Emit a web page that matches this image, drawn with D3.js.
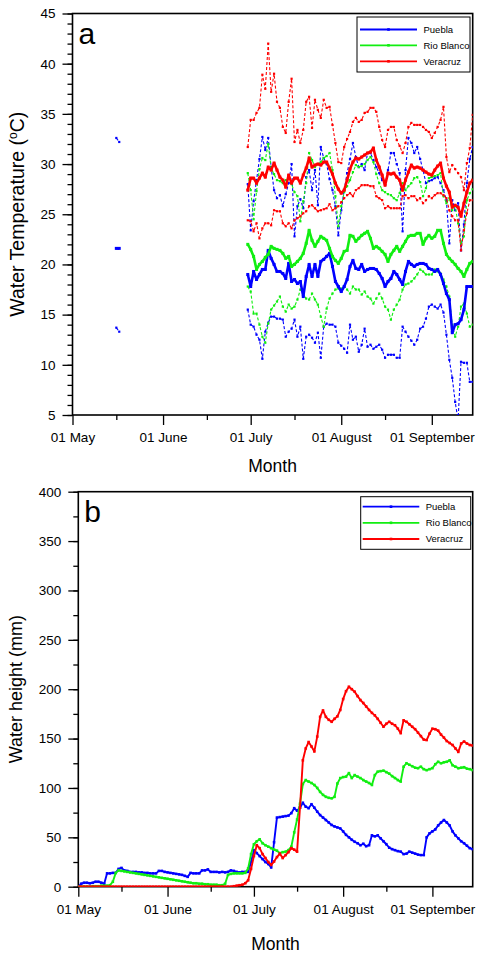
<!DOCTYPE html>
<html><head><meta charset="utf-8">
<script src="https://cdn.jsdelivr.net/npm/d3@7"></script>
<style>
html,body{margin:0;padding:0;background:#fff;}
text{font-family:"Liberation Sans",Arial,Helvetica,sans-serif;}
</style></head>
<body><svg id="chart" width="485" height="956"></svg>
<script>
// ---------------- DATA ----------------
const seriesNames = ["Puebla", "Rio Blanco", "Veracruz"];
const seriesColors = ["#0000ff", "#11ee11", "#ff0000"];
const monthTicks = ["2013-05-01", "2013-06-01", "2013-07-01", "2013-08-01", "2013-09-01"];
const midMonthTicks = ["2013-05-16", "2013-06-16", "2013-07-16", "2013-08-16"];
const tempTicks = [5, 10, 15, 20, 25, 30, 35, 40, 45];
const heightTicks = [0, 50, 100, 150, 200, 250, 300, 350, 400];

// Panel a: daily water temperature (first value = 30 June)
const tempStart = "2013-06-30";
const pueblaMean = [19.0,17.8,19.3,18.5,19.0,19.5,19.5,21.4,20.6,20.0,19.3,19.3,19.1,18.6,20.1,18.3,18.5,18.1,18.3,16.8,18.8,20.0,18.8,20.0,18.8,20.3,20.5,20.8,21.1,19.8,18.3,17.8,17.3,17.8,18.5,19.8,20.4,19.6,19.5,20.0,19.3,19.5,19.6,19.6,19.5,19.1,18.6,17.8,18.3,18.6,19.3,19.0,18.5,18.0,19.3,20.3,20.0,19.8,20.0,20.1,20.1,20.0,19.6,19.5,19.3,19.5,19.0,18.1,17.1,16.5,13.2,14.0,14.1,14.5,15.5,17.8,17.8,17.8];
const pueblaMax = [28.0,23.4,26.3,28.4,30.5,32.7,31.4,32.6,29.7,27.4,26.6,26.9,25.8,27.0,28.1,30.0,22.8,25.8,26.5,25.6,28.7,29.4,27.4,29.4,25.9,31.7,30.6,30.0,28.5,27.4,25.8,22.9,25.4,27.4,29.1,30.5,32.1,30.7,29.7,30.0,29.4,31.1,31.1,30.4,29.7,29.1,28.4,27.9,29.4,31.1,31.1,30.0,29.1,23.3,29.4,32.6,32.1,31.1,31.7,30.5,29.4,28.1,28.3,28.4,28.6,28.7,28.1,27.4,26.4,22.1,26.4,25.4,26.1,21.4,24.0,28.1,30.5,31.7];
const pueblaMin = [15.5,14.0,13.8,13.0,12.5,10.6,13.3,14.2,14.8,14.8,14.6,14.6,14.5,12.8,13.3,13.6,14.5,12.8,13.8,10.6,12.8,13.0,12.7,12.2,13.2,10.7,13.8,14.1,14.0,14.0,13.8,12.2,11.9,11.6,11.2,14.0,12.5,12.8,11.3,12.0,13.6,11.8,12.0,11.6,11.8,12.0,11.5,10.7,11.0,11.0,11.0,10.7,10.7,13.8,13.3,12.8,12.4,12.0,12.5,13.6,13.8,14.6,15.8,16.0,15.8,15.6,16.0,15.2,13.0,10.5,8.7,6.3,4.5,10.3,10.2,10.2,8.3,8.3];
// Puebla also has two isolated mid-May readings
const pueblaMayDates = ["2013-05-16", "2013-05-17"];
const pueblaMayMean = [21.6, 21.6];
const pueblaMayMax = [32.6, 32.2];
const pueblaMayMin = [13.7, 13.3];
const rioBlancoMean = [22.0,21.5,20.8,19.5,20.0,20.3,20.7,21.0,21.8,21.6,21.5,21.4,21.1,20.6,20.8,19.8,20.0,20.3,20.6,21.1,22.1,23.4,22.4,21.8,22.3,22.8,22.6,22.4,21.6,20.8,20.4,20.1,20.6,21.3,21.4,22.9,22.8,22.3,22.6,22.9,23.1,23.3,22.6,21.6,21.8,21.6,21.3,21.0,20.3,21.0,21.4,21.8,21.3,21.8,22.3,22.8,22.9,22.9,23.1,23.1,22.0,22.6,22.9,22.6,22.8,23.4,23.4,22.1,21.0,20.6,20.3,20.0,19.6,19.3,18.8,19.5,20.1,20.3];
const rioBlancoMax = [29.1,27.4,24.5,27.3,29.5,30.6,30.4,32.0,29.6,29.0,28.4,28.3,28.1,28.4,28.7,28.0,27.2,26.8,24.3,26.3,28.1,31.1,30.4,29.7,30.0,30.2,30.6,30.8,31.1,29.4,26.8,23.8,25.8,27.2,27.8,28.4,29.2,29.9,29.7,29.8,30.0,30.4,30.7,30.2,29.0,28.1,27.4,27.2,27.0,26.9,26.6,26.4,27.1,28.1,27.4,27.8,28.1,28.6,28.7,28.2,26.8,27.6,28.6,28.7,28.8,28.9,29.1,26.8,26.1,26.6,25.4,25.8,24.1,22.1,22.8,26.4,27.1,27.5];
const rioBlancoMin = [17.8,17.3,15.1,15.1,14.0,12.8,12.2,14.1,15.5,15.9,16.3,16.8,15.8,15.3,16.0,15.6,15.8,16.5,17.5,17.1,16.6,16.5,17.1,16.5,16.0,14.8,13.8,15.6,16.6,17.1,17.5,17.6,17.6,17.8,17.5,17.1,17.8,17.5,17.5,17.0,17.3,16.8,16.6,16.1,16.6,17.1,16.6,15.8,15.5,14.5,15.5,16.0,16.5,17.5,18.0,18.1,18.3,18.6,19.0,19.5,19.3,19.0,19.0,19.0,19.5,19.3,19.1,18.5,17.8,16.8,14.0,12.8,13.8,15.8,16.1,15.1,13.8,14.0];
const veracruzMean = [27.4,28.6,28.6,28.1,28.6,29.1,28.7,29.7,29.4,30.1,29.4,28.7,28.4,27.7,28.9,28.1,28.6,28.6,28.1,28.9,29.6,30.6,29.7,29.9,30.0,29.9,30.2,30.2,29.6,29.0,28.1,27.5,27.1,27.4,28.4,29.5,30.2,30.6,30.5,30.7,30.9,31.1,31.2,31.6,30.4,29.7,28.9,27.9,29.1,29.0,29.1,28.7,28.4,27.4,28.4,29.2,29.9,29.6,29.7,29.6,29.4,29.2,29.0,28.9,29.4,29.8,30.1,28.6,27.8,27.2,25.7,25.9,25.7,24.8,26.1,27.2,28.1,28.4];
const veracruzMax = [31.7,34.4,34.4,35.1,35.6,38.9,37.5,42.0,37.2,39.0,36.2,35.6,33.7,33.1,36.2,38.5,32.2,33.4,32.1,33.4,36.2,36.7,33.6,36.4,35.4,34.6,36.4,35.6,35.7,33.9,32.1,30.2,30.1,31.7,32.5,33.2,34.2,34.6,34.2,34.4,35.1,35.2,35.6,35.6,35.2,33.7,32.4,31.7,33.4,33.7,33.7,32.4,31.8,31.1,32.1,33.7,34.1,33.9,33.9,33.9,33.7,33.4,33.2,32.6,33.1,33.7,34.4,35.7,30.7,29.2,29.9,29.5,29.1,28.7,27.4,30.1,31.6,34.9];
const veracruzMin = [24.4,24.3,23.3,24.1,22.6,23.6,24.1,24.1,23.9,25.4,25.3,25.3,24.1,23.8,24.1,23.6,24.4,24.6,24.8,25.1,25.3,25.8,25.9,25.6,25.3,25.4,25.5,25.6,26.0,25.4,25.6,25.8,26.2,26.6,26.9,27.1,26.8,27.4,27.6,27.9,27.9,27.9,27.8,27.8,26.8,26.6,26.4,25.6,25.8,25.6,25.6,25.6,25.6,26.8,26.9,26.6,26.8,26.8,26.4,26.6,26.1,26.4,26.8,26.6,26.9,27.1,27.1,26.9,26.6,25.4,24.8,24.4,24.4,21.4,23.4,25.1,26.4,26.4];

// Panel b: daily water height (first value = 01 May)
const heightStart = "2013-05-01";
const pueblaHeight = [0,3,4,4,3.5,4,5,5,4,3, 13.5,13.5,14,14,18,19,16.5,16,15,15, 15,14.5,14.5,14,14,13.5,13.5,13.5,16,16, 15,14.5,14,13.5,13,12.5,12,11,10,14, 13.5,13.5,13.5,16.5,16.5,17.5,15,15,15,14.5, 15,14.5,15,16.5,16,15,14.5,15,15,15, 25,37,34,31,28,25,23,19.5,45,70, 70.5,71,71.5,72,74.5,79.5,77,80,85,81, 79.5,83.5,80,76,72.5,70,67.5,65,62.5,61, 60,59,56,52.5,50,47.5,45.5,44,42,43.5, 41,42,52,51,52,49,46,43,39.5,38, 37,36,35.5,33,33.5,35.5,34.5,33.5,32.5,32, 32,50,54,56,58,62,65,67.5,65,62, 56,52,49,46,44,41.5,39,38];
const rioBlancoHeight = [0,0,0,0,0,0.5,0.5,0.5,1,1, 1,1.5,5,14,16.5,16,15.5,15,14.5,14, 13.5,13,12.5,12,11.5,11,10.5,10,9.5,9, 8.5,8,7.5,7,6.5,6,5.5,5,4.5,4, 3.5,3.5,3,3,2.5,2.5,2,2,2,1.5, 1.5,3,12,13,13.5,13.5,13.5,13.5,14,18.5, 33,43,46,48,44,42,40.5,39,37.5,36.5, 34,35,35.5,37,40.5,55,68,84,104,108, 106.5,105,103,100,96,93,91,90,89.5,91, 104.5,110,111,111.5,115,110,113,111.5,110,108, 106.5,105,103,113,116.5,117,117.5,116,114.5,112, 110,108,106.5,121.5,125,123.5,122,120.5,120,121.5, 119,118,119,120,124,126.5,125,126,126.5,128, 123,121.5,120,120.5,121,119.5,119,118];
const veracruzHeight = [0,0,0,0,0,0,0,0,0,0, 0,0,0,0,0,0,0,0,0,0, 0,0,0,0,0,0,0,0,0,0, 0,0,0,0,0,0,0,0,0,0, 0,0,0,0,0,0,0,0,0,0, 0,0,0,0,0.5,1,1.5,2,3.5,6.5, 18,31,42,39,33,29,25,22,25.5,30, 33.5,29,32,35,39,37.5,35.5,80,128,140, 146.5,142,137,152,172,178.5,172,169,167,170, 172.5,179,190,198,202.5,200,197.5,193,189,186, 182.5,179,176,173.5,170,166,162,165,167,165, 163.5,160,155.5,168.5,167,164.5,162,159.5,156,152.5, 149,148.5,155,160,159.5,158,154,151,147.5,145.5, 143.5,140,136.5,145,147,145,143.5,143];

// ---------------- DRAWING ----------------
const svg = d3.select("#chart");
const parse = d3.timeParse("%Y-%m-%d");
const dom = [parse("2013-05-01"), parse("2013-09-15")];
const fmt = d3.timeFormat("%d %B");
const font = '"Liberation Sans",Arial,Helvetica,sans-serif';

function series(start, vals) {
  const s = parse(start);
  return vals.map((v, i) => ({date: d3.timeDay.offset(s, i), v: v}));
}
function pairs(dates, vals) { return dates.map((d, i) => ({date: parse(d), v: vals[i]})); }

function panel(cfg) {
  const g = svg.append("g");
  const x = d3.scaleTime().domain(dom).range([cfg.left, cfg.right]);
  const y = d3.scaleLinear().domain(cfg.ydom).range([cfg.bottom, cfg.top]);
  const clipId = "clip" + cfg.id;
  svg.append("clipPath").attr("id", clipId).append("rect")
    .attr("x", cfg.left).attr("y", cfg.top).attr("width", cfg.right - cfg.left).attr("height", cfg.bottom - cfg.top);

  // axes
  const xa = g.append("g").attr("transform", `translate(0,${cfg.bottom})`)
    .call(d3.axisBottom(x).tickValues(monthTicks.map(parse)).tickSize(10).tickPadding(6).tickFormat(fmt));
  const xm = g.append("g").attr("transform", `translate(0,${cfg.bottom})`)
    .call(d3.axisBottom(x).tickValues(midMonthTicks.map(parse)).tickSize(5).tickFormat(""));
  const ya = g.append("g").attr("transform", `translate(${cfg.left},0)`)
    .call(d3.axisLeft(y).tickValues(cfg.yticks).tickSize(10).tickPadding(7));
  const ym = g.append("g").attr("transform", `translate(${cfg.left},0)`)
    .call(d3.axisLeft(y).tickValues(d3.range(cfg.ydom[0], cfg.ydom[1] + 0.001, cfg.minorStep)).tickSize(5).tickFormat(""));
  [xa, xm, ya, ym].forEach(a => {
    a.select(".domain").remove();
    a.selectAll("line").attr("stroke", "#000").attr("stroke-width", 1.3);
    a.selectAll("text").attr("font-size", 13.5).attr("font-family", font).attr("fill", "#000");
  });
  xa.selectAll("text").attr("dy", "0.85em");

  g.append("rect").attr("x", cfg.left).attr("y", cfg.top)
    .attr("width", cfg.right - cfg.left).attr("height", cfg.bottom - cfg.top)
    .attr("fill", "none").attr("stroke", "#000").attr("stroke-width", 1.6);

  // titles
  g.append("text").attr("x", (cfg.left + cfg.right) / 2).attr("y", cfg.monthY)
    .attr("text-anchor", "middle").attr("font-size", 17.5).attr("font-family", font).text("Month");
  const yl = g.append("text").attr("transform", `translate(${cfg.ylabelX},${(cfg.top + cfg.bottom) / 2}) rotate(-90)`)
    .attr("text-anchor", "middle").attr("font-size", cfg.ylabelSize).attr("font-family", font);
  cfg.ylabel(yl);
  g.append("text").attr("x", cfg.left + 6).attr("y", cfg.top + cfg.letterDy)
    .attr("font-size", 30).attr("font-family", '"Open Sans","DejaVu Sans",sans-serif').text(cfg.letter);

  const plot = g.append("g").attr("clip-path", `url(#${clipId})`);
  return {g, x, y, plot};
}

function drawLine(p, data, color, width, dash, msize) {
  const line = d3.line().defined(d => d.v != null).x(d => p.x(d.date)).y(d => p.y(d.v));
  p.plot.append("path").datum(data).attr("d", line).attr("fill", "none")
    .attr("stroke", color).attr("stroke-width", width).attr("stroke-linejoin", "round")
    .attr("stroke-dasharray", dash || null);
  p.plot.append("g").selectAll("rect").data(data).join("rect")
    .attr("x", d => p.x(d.date) - msize / 2).attr("y", d => p.y(d.v) - msize / 2)
    .attr("width", msize).attr("height", msize).attr("fill", color);
}

function legend(p, bx, by, bw, bh, rows, lineX0, lineX1, textX) {
  p.g.append("rect").attr("x", bx).attr("y", by).attr("width", bw).attr("height", bh)
    .attr("fill", "#fff").attr("stroke", "#000").attr("stroke-width", 1);
  seriesNames.forEach((n, i) => {
    p.g.append("line").attr("x1", lineX0).attr("x2", lineX1).attr("y1", rows[i]).attr("y2", rows[i])
      .attr("stroke", seriesColors[i]).attr("stroke-width", 1.8);
    p.g.append("rect").attr("x", (lineX0 + lineX1) / 2 - 1.3).attr("y", rows[i] - 1.3)
      .attr("width", 2.6).attr("height", 2.6).attr("fill", seriesColors[i]);
    p.g.append("text").attr("x", textX).attr("y", rows[i] + 3.4).attr("font-size", 9.5)
      .attr("font-family", font).text(n);
  });
}

// Panel a
const pa = panel({id: "a", left: 72.5, right: 472.7, top: 13.5, bottom: 415, ydom: [5, 45], yticks: tempTicks,
  minorStep: 1, monthY: 472, ylabelX: 24, ylabelSize: 19.5, letter: "a", letterDy: 30,
  ylabel: t => { t.append("tspan").text("Water Temperature ("); t.append("tspan").attr("font-size", 12).attr("dy", -7).text("o");
                 t.append("tspan").attr("dy", 7).text("C)"); }});
const minMax = [[pueblaMax, pueblaMin, pueblaMayMax, pueblaMayMin], [rioBlancoMax, rioBlancoMin], [veracruzMax, veracruzMin]];
minMax.forEach((arr, i) => {
  drawLine(pa, series(tempStart, arr[0]), seriesColors[i], 1.1, "3,2", 2.2);
  drawLine(pa, series(tempStart, arr[1]), seriesColors[i], 1.1, "3,2", 2.2);
  if (arr[2]) {
    drawLine(pa, pairs(pueblaMayDates, arr[2]), seriesColors[i], 1.1, "3,2", 2.2);
    drawLine(pa, pairs(pueblaMayDates, arr[3]), seriesColors[i], 1.1, "3,2", 2.2);
  }
});
drawLine(pa, pairs(pueblaMayDates, pueblaMayMean), seriesColors[0], 2.6, null, 3);
[pueblaMean, rioBlancoMean, veracruzMean].forEach((arr, i) => {
  drawLine(pa, series(tempStart, arr), seriesColors[i], 2.6, null, 3);
});
legend(pa, 357, 17, 113, 55, [29.5, 45.3, 61.3], 360, 417, 423.5);

// Panel b
const pb = panel({id: "b", left: 78.3, right: 472.7, top: 491.7, bottom: 886.7, ydom: [0, 400], yticks: heightTicks,
  minorStep: 25, monthY: 950, ylabelX: 21.5, ylabelSize: 18, letter: "b", letterDy: 30,
  ylabel: t => t.text("Water height (mm)")});
[pueblaHeight, rioBlancoHeight, veracruzHeight].forEach((arr, i) => {
  drawLine(pb, series(heightStart, arr), seriesColors[i], 1.9, null, 2.6);
});
legend(pb, 360.7, 496.7, 110, 52.6, [506.7, 522.8, 539], 362.7, 419.3, 425.7);
</script>
</body></html>
